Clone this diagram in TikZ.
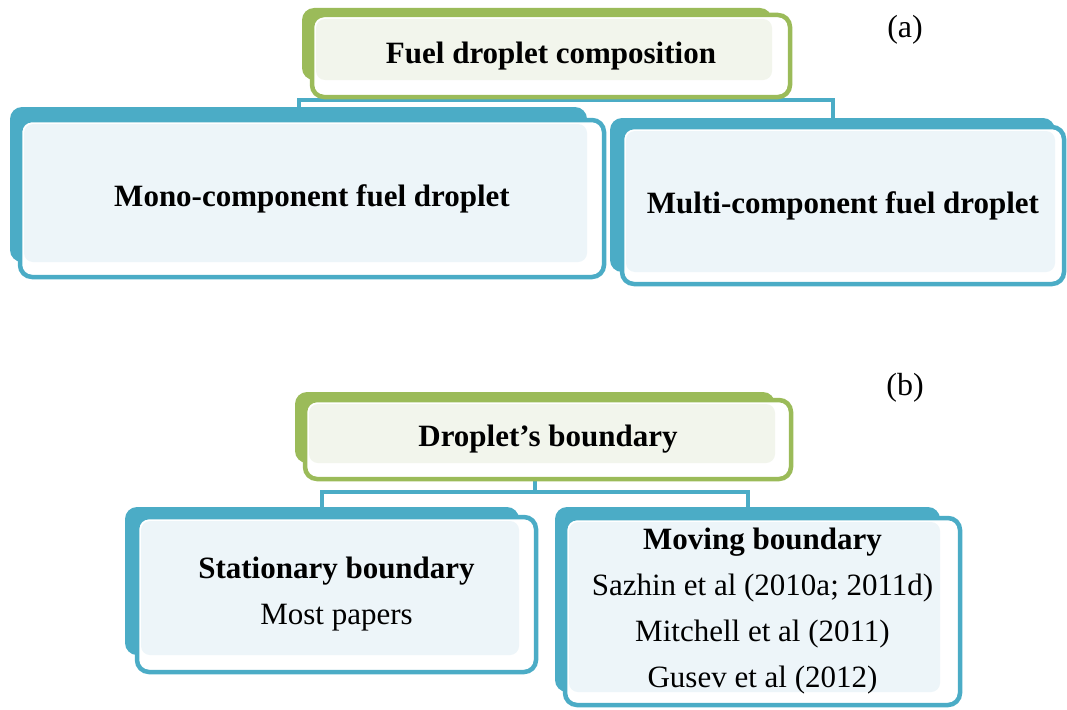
\documentclass[tikz,border=0pt]{standalone}
\usepackage{fontspec}
\setmainfont{Liberation Serif}

\definecolor{boxBlue}{HTML}{4BACC6}
\definecolor{faceBlue}{HTML}{EDF5F9}
\definecolor{boxGreen}{HTML}{9BBB59}
\definecolor{faceGreen}{HTML}{F2F5EC}

\begin{document}
\begin{tikzpicture}
        [x=1pt, y=-1pt,
        backBox/.style={fill=#1, rounded corners=12pt, inner sep=0pt, outer sep=0pt, anchor=north west},
        frontBox/.style={fill=white, draw=#1, line width=4.5pt, rounded corners=12pt, inner sep=0pt, outer sep=0pt, anchor=north west},
        face/.style={fill=#1, rounded corners=9pt},
        link/.style={draw=boxBlue, line width=4pt},
        caption/.style={font=\fontsize{31}{46}\selectfont, align=center, inner sep=0pt},
        tag/.style={font=\fontsize{32}{38}\selectfont, inner sep=0pt}]
%
\useasboundingbox (0,0) rectangle (1067,709);
%%
%% Part (a): back shapes
%%
\node[backBox=boxGreen, minimum width=470pt, minimum height=72pt] (compBack) at (302,8) {};
\node[backBox=boxBlue, minimum width=577pt, minimum height=155pt] (monoBack) at (10,107) {};
\node[backBox=boxBlue, minimum width=445pt, minimum height=154pt] (multiBack) at (610,118) {};
%%
%% Part (a): connectors
%%
\draw[link] (compBack.south) -- ++(0,20) -| (monoBack.north);
\draw[link] (compBack.south) -- ++(0,20) -| (multiBack.north);
%%
%% Part (a): front shapes
%%
\node[frontBox=boxGreen, minimum width=478pt, minimum height=82pt] (comp) at (312,15) {};
\fill[face=faceGreen] ([shift={(4,4)}]comp.north west) rectangle (compBack.south east);
\node[caption, font=\fontsize{31}{46}\selectfont\bfseries] (compText) at (comp.center) {Fuel droplet composition};

\node[frontBox=boxBlue, minimum width=584pt, minimum height=157pt] (mono) at (20,120) {};
\fill[face=faceBlue] ([shift={(4,4)}]mono.north west) rectangle (monoBack.south east);
\node[caption, font=\fontsize{31}{46}\selectfont\bfseries] (monoText) at (mono.center) {Mono-component fuel droplet};

\node[frontBox=boxBlue, minimum width=442pt, minimum height=157pt] (multi) at (622,127) {};
\fill[face=faceBlue] ([shift={(4,4)}]multi.north west) rectangle (multiBack.south east);
\node[caption, font=\fontsize{31}{46}\selectfont\bfseries] (multiText) at (multi.center) {Multi-component fuel droplet};

\node[tag] (tagA) at (905,30) {(a)};
%%
%% Part (b): back shapes
%%
\node[backBox=boxGreen, minimum width=480pt, minimum height=71pt] (boundBack) at (295,392) {};
\node[backBox=boxBlue, minimum width=394pt, minimum height=148pt] (statBack) at (125,507) {};
\node[backBox=boxBlue, minimum width=385pt, minimum height=185pt] (movBack) at (555,507) {};
%%
%% Part (b): connectors
%%
\draw[link] (boundBack.south) -- ++(0,29) -| (statBack.north);
\draw[link] (boundBack.south) -- ++(0,29) -| (movBack.north);
%%
%% Part (b): front shapes
%%
\node[frontBox=boxGreen, minimum width=486pt, minimum height=79pt] (bound) at (305,400) {};
\fill[face=faceGreen] ([shift={(4,4)}]bound.north west) rectangle (boundBack.south east);
\node[caption, font=\fontsize{31}{46}\selectfont\bfseries] (boundText) at (bound.center) {Droplet's boundary};

\node[frontBox=boxBlue, minimum width=399pt, minimum height=155pt] (stat) at (137,517) {};
\fill[face=faceBlue] ([shift={(4,4)}]stat.north west) rectangle (statBack.south east);
\node[caption] (statText) at (stat.center) {\textbf{Stationary boundary}\\Most papers};

\node[frontBox=boxBlue, minimum width=395pt, minimum height=187pt] (mov) at (565,518) {};
\fill[face=faceBlue] ([shift={(4,4)}]mov.north west) rectangle (movBack.south east);
\node[caption] (movText) at (mov.center) {\textbf{Moving boundary}\\Sazhin et al (2010a; 2011d)\\Mitchell et al (2011)\\Gusev et al (2012)};

\node[tag] (tagB) at (905,388) {(b)};
%%
\end{tikzpicture}
\end{document}
